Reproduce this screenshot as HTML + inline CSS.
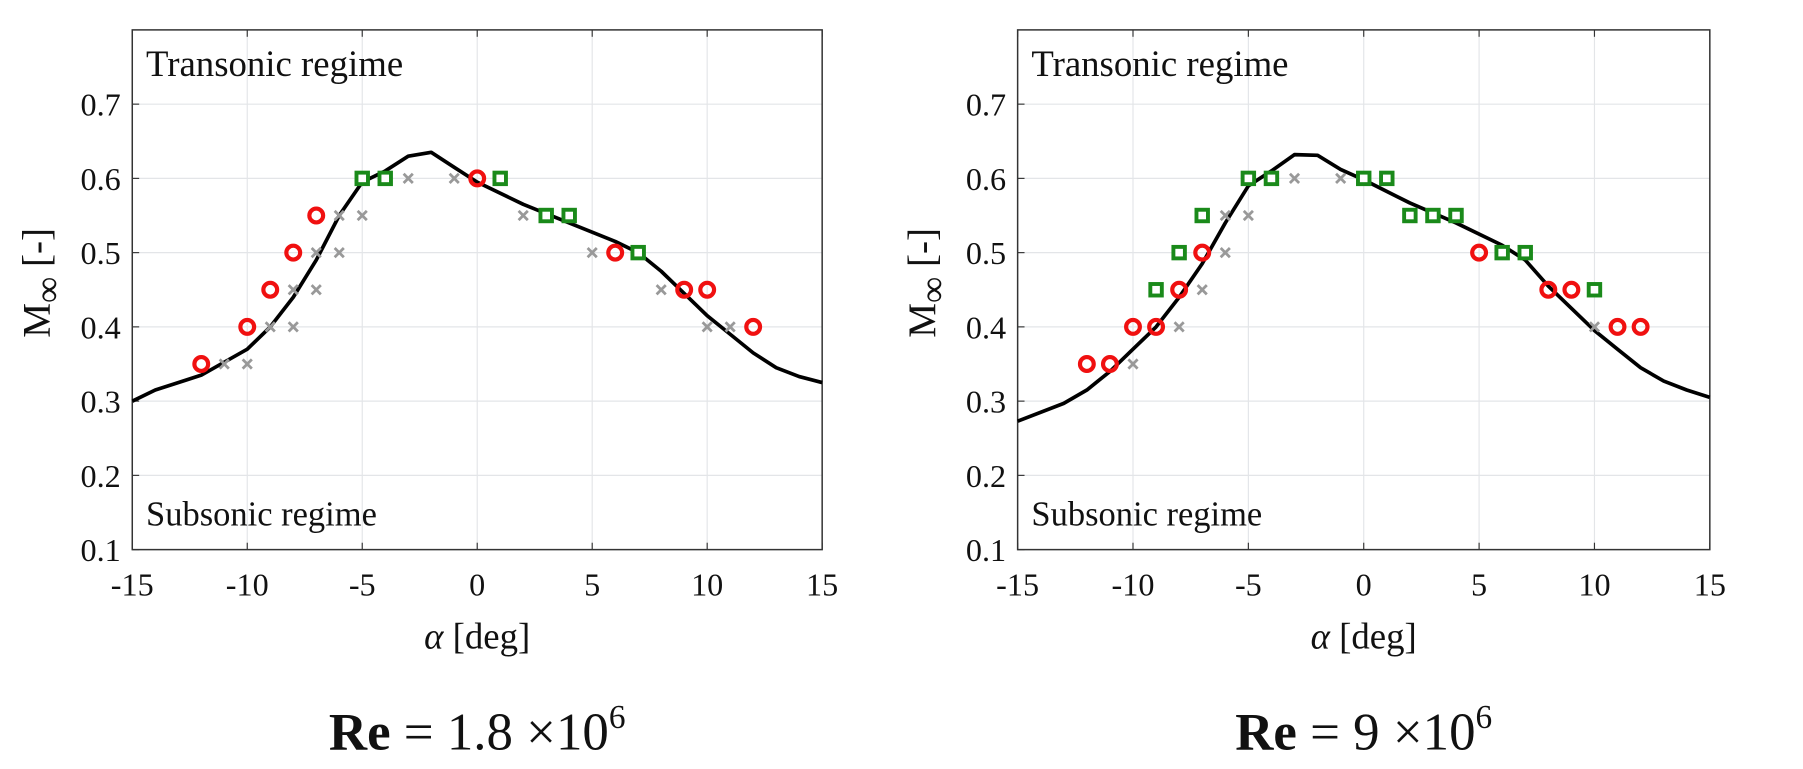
<!DOCTYPE html>
<html><head><meta charset="utf-8">
<style>
body{margin:0;background:#fff;width:1803px;height:769px;overflow:hidden}
svg{display:block}
text{font-family:"Liberation Serif",serif;fill:#111}
</style></head>
<body>
<svg id="fig" width="1803" height="769" viewBox="0 0 1568 668.8"></svg>
<script>
const xTicks=[-15,-10,-5,0,5,10,15];
const yTicks=[0.1,0.2,0.3,0.4,0.5,0.6,0.7];
// Left panel (Re = 1.8e6)
const L_lineX=[-15,-14,-12,-10,-9,-8,-7,-6,-5,-4,-3,-2,-1,0,2,4,6,7,8,9,10,11,12,13,14,15];
const L_lineY=[0.30,0.315,0.335,0.37,0.40,0.44,0.49,0.55,0.595,0.61,0.63,0.635,0.615,0.595,0.565,0.54,0.515,0.50,0.475,0.445,0.415,0.39,0.365,0.345,0.333,0.325];
const L_grayX=[-11,-10,-9,-8,-8,-7,-7,-6,-6,-5,-3,-1,2,5,8,10,11];
const L_grayY=[0.35,0.35,0.40,0.40,0.45,0.45,0.50,0.50,0.55,0.55,0.60,0.60,0.55,0.50,0.45,0.40,0.40];
const L_greenX=[-5,-4,1,3,4,7];
const L_greenY=[0.60,0.60,0.60,0.55,0.55,0.50];
const L_redX=[-12,-10,-9,-8,-7,0,6,9,10,12];
const L_redY=[0.35,0.40,0.45,0.50,0.55,0.60,0.50,0.45,0.45,0.40];
// Right panel (Re = 9e6)
const R_lineX=[-15,-13,-12,-11,-10,-9,-8,-7,-6,-5,-4,-3,-2,-1,0,2,4,6,7,8,9,10,11,12,13,14,15];
const R_lineY=[0.273,0.297,0.315,0.34,0.37,0.40,0.44,0.485,0.54,0.59,0.61,0.632,0.631,0.612,0.598,0.567,0.54,0.51,0.49,0.455,0.425,0.395,0.37,0.345,0.327,0.315,0.305];
const R_grayX=[-10,-8,-7,-6,-6,-5,-3,-1,10];
const R_grayY=[0.35,0.40,0.45,0.50,0.55,0.55,0.60,0.60,0.40];
const R_greenX=[-9,-8,-7,-5,-4,0,1,2,3,4,6,7,10];
const R_greenY=[0.45,0.50,0.55,0.60,0.60,0.60,0.60,0.55,0.55,0.55,0.50,0.50,0.45];
const R_redX=[-12,-11,-10,-9,-8,-7,5,8,9,11,12];
const R_redY=[0.35,0.35,0.40,0.40,0.45,0.50,0.50,0.45,0.45,0.40,0.40];

const NS="http://www.w3.org/2000/svg";
const svg=document.getElementById('fig');
function mk(tag,attrs,parent){const e=document.createElementNS(NS,tag);for(const k in attrs)e.setAttribute(k,attrs[k]);(parent||svg).appendChild(e);return e;}

function panel(p){
  const x0=p.left,x1=p.right,yT=26,yB=478;
  const sx=v=>x0+(v+15)/30*(x1-x0);
  const sy=v=>yB-(v-0.1)/0.7*(yB-yT);
  const g=mk('g',{});
  
  
  mk('rect',{x:x0,y:yT,width:x1-x0,height:yB-yT,fill:'#fff'},g);
  xTicks.forEach(t=>{
    const l=mk('line',{x1:sx(t),x2:sx(t),y1:yT,y2:yB,stroke:'#e3e5e8','stroke-width':1},g);
    
    
    mk('line',{x1:sx(t),x2:sx(t),y1:yB,y2:yB-6,stroke:'#333'},g);
    mk('line',{x1:sx(t),x2:sx(t),y1:yT,y2:yT+6,stroke:'#333'},g);
    const tx=mk('text',{x:sx(t),y:yB+40,'text-anchor':'middle','font-size':28},g);
    tx.textContent=t;
    
    
  });
  yTicks.forEach(t=>{
    const l=mk('line',{x1:x0,x2:x1,y1:sy(t),y2:sy(t),stroke:'#e3e5e8','stroke-width':1},g);
    
    
    mk('line',{x1:x0,x2:x0+6,y1:sy(t),y2:sy(t),stroke:'#333'},g);
    const tx=mk('text',{x:x0-10,y:sy(t)+10,'text-anchor':'end','font-size':28},g);
    tx.textContent=t.toFixed(1);
    
    
  });
  const box=mk('rect',{x:x0,y:yT,width:x1-x0,height:yB-yT,fill:'none',stroke:'#333','stroke-width':1.3},g);
  
  
  const pts=p.lx.map((v,i)=>sx(v).toFixed(1)+','+sy(p.ly[i]).toFixed(1)).join(' ');
  const pl=mk('polyline',{points:pts,fill:'none',stroke:'#000','stroke-width':3.2,'stroke-linejoin':'round'},g);
  
  
  p.gx.forEach((v,i)=>{
    const cx=sx(v),cy=sy(p.gy[i]);
    const m=mk('path',{d:`M${cx-4},${cy-4}L${cx+4},${cy+4}M${cx-4},${cy+4}L${cx+4},${cy-4}`,stroke:'#999','stroke-width':2.4},g);
    
    
  });
  p.sx.forEach((v,i)=>{
    const cx=sx(v),cy=sy(p.sy[i]);
    const m=mk('rect',{x:cx-5,y:cy-5,width:10,height:10,fill:'#fff',stroke:'#1a8a1a','stroke-width':3.4},g);
    
    
  });
  p.rx.forEach((v,i)=>{
    const cx=sx(v),cy=sy(p.ry[i]);
    const m=mk('circle',{cx:cx,cy:cy,r:6,fill:'none',stroke:'#f01010','stroke-width':3.6},g);
    
    
  });
  const t1=mk('text',{x:x0+12,y:66,'font-size':32},g);t1.textContent='Transonic regime';
  
  
  const t2=mk('text',{x:x0+12,y:457,'font-size':30},g);t2.textContent='Subsonic regime';
  
  
  const xl=mk('text',{x:(x0+x1)/2,y:564,'text-anchor':'middle','font-size':32},g);
  xl.innerHTML='<tspan font-style="italic">α</tspan> [deg]';
  
  
  const yl=mk('text',{transform:`translate(${x0-72},${(yT+yB)/2-6}) rotate(-90)`,'text-anchor':'middle','font-size':34},g);
  yl.innerHTML='M<tspan dy="9" font-size="32">∞</tspan><tspan dy="-9"> [-]</tspan>';
  
  
  const ti=mk('text',{x:(x0+x1)/2,y:652,'text-anchor':'middle','font-size':46},g);
  ti.innerHTML='<tspan font-weight="bold">Re</tspan> = '+p.re+'<tspan dy="-19" font-size="29">6</tspan>';
  
  
}
panel({name:'left-panel',left:115,right:715,lx:L_lineX,ly:L_lineY,gx:L_grayX,gy:L_grayY,sx:L_greenX,sy:L_greenY,rx:L_redX,ry:L_redY,re:'1.8 ×10'});
panel({name:'right-panel',left:885,right:1487,lx:R_lineX,ly:R_lineY,gx:R_grayX,gy:R_grayY,sx:R_greenX,sy:R_greenY,rx:R_redX,ry:R_redY,re:'9 ×10'});
</script>
</body></html>
